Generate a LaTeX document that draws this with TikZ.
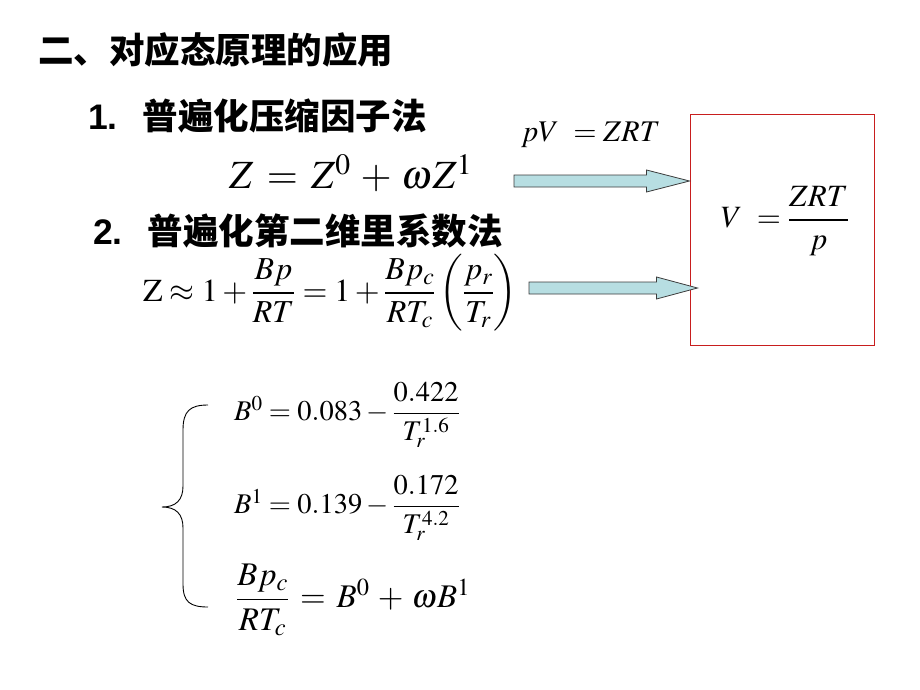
\documentclass[tikz,border=0pt]{standalone}
\usepackage{mathptmx}
\usepackage{amsmath}
\usepackage{fontspec}
\setmainfont{Liberation Serif}
\setsansfont{Liberation Sans}
\newfontfamily\cjk{Noto Sans CJK SC}
\usetikzlibrary{calc}
\definecolor{arrowfill}{RGB}{183,222,226}
\definecolor{arrowline}{RGB}{60,60,60}
\definecolor{boxred}{RGB}{200,30,30}

\begin{document}
\begin{tikzpicture}[x = 1pt, y = -1pt]
	\tikzstyle{headStyle} = [anchor = west, inner sep = 0pt, font = \cjk\bfseries\fontsize{35.5}{40}\selectfont]
	\tikzstyle{eqStyle} = [anchor = west, inner sep = 0pt]
	\tikzstyle{fatArrow} = [draw = arrowline, fill = arrowfill, line width = 0.8pt, line join = miter]
	\tikzstyle{boxStyle} = [draw = boxred, line width = 1pt, minimum width = 184pt, minimum height = 230pt, inner sep = 0pt]
	\tikzstyle{braceStyle} = [draw, line width = 0.9pt]
	\useasboundingbox (0,0) rectangle (920,690);
	% headings
	\node[headStyle] (title) at (38,50) {二、对应态原理的应用};
	\node[headStyle] (secA) at (88,116) {{\sffamily 1.}\hspace{25pt}普遍化压缩因子法};
	\node[headStyle] (secB) at (93,231) {{\sffamily 2.}\hspace{25pt}普遍化第二维里系数法};
	% equations
	\node[eqStyle, font = \fontsize{40}{44}\selectfont] (eqZ) at (229,173) {$Z \,=\, Z^{0} \,+\, \omega Z^{1}$};
	\node[eqStyle, font = \fontsize{30}{34}\selectfont] (eqPV) at (521,135) {$pV\ = ZRT$};
	\node[eqStyle, font = \fontsize{32}{36}\selectfont] (eqVir) at (143,293)
		{$\mathrm{Z} \approx 1 + \dfrac{Bp}{RT} = 1 + \dfrac{Bp_{c}}{RT_{c}}\left(\dfrac{p_{r}}{T_{r}}\right)$};
	\node[boxStyle] (boxV) at (782,230) {};
	\node[inner sep = 0pt, font = \fontsize{31}{36}\selectfont] (eqV) at (785,221) {$V\ = \dfrac{ZRT}{p}$};
	\node[eqStyle, font = \fontsize{28.5}{32}\selectfont] (eqBzero) at (234,415) {$B^{0} = 0.083 - \dfrac{0.422}{T_{r}^{1.6}}$};
	\node[eqStyle, font = \fontsize{28.5}{32}\selectfont] (eqBone) at (234,508) {$B^{1} = 0.139 - \dfrac{0.172}{T_{r}^{4.2}}$};
	\node[eqStyle, font = \fontsize{33}{36}\selectfont] (eqBsum) at (236,600) {$\dfrac{Bp_{c}}{RT_{c}} \,=\, B^{0} \,+\, \omega B^{1}$};
	% arrows to the box
	\coordinate (arrAstart) at (514,181);
	\coordinate (arrAtip) at (boxV.west |- arrAstart);
	\coordinate (arrBstart) at (529,288);
	\coordinate (arrBtip) at ($(boxV.west |- arrBstart)+(8,0)$);
	\draw[fatArrow] ($(arrAstart)+(0,-6)$) -- ($(arrAtip)+(-43,-6)$) -- ($(arrAtip)+(-43,-11)$) -- (arrAtip)
		-- ($(arrAtip)+(-43,11)$) -- ($(arrAtip)+(-43,6)$) -- ($(arrAstart)+(0,6)$) -- cycle;
	\draw[fatArrow] ($(arrBstart)+(0,-6)$) -- ($(arrBtip)+(-41,-6)$) -- ($(arrBtip)+(-41,-11)$) -- (arrBtip)
		-- ($(arrBtip)+(-41,11)$) -- ($(arrBtip)+(-41,6)$) -- ($(arrBstart)+(0,6)$) -- cycle;
	% brace
	\coordinate (braceTop) at (208,405);
	\coordinate (braceTip) at (162,507);
	\coordinate (braceBot) at (208,607);
	\draw[braceStyle] (braceTop) .. controls (190,405) and (183,411) .. (183,430) -- (183,486)
		.. controls (183,500) and (176,507) .. (braceTip) .. controls (176,507) and (183,514) .. (183,528)
		-- (183,584) .. controls (183,602) and (190,607) .. (braceBot);
\end{tikzpicture}
\end{document}
